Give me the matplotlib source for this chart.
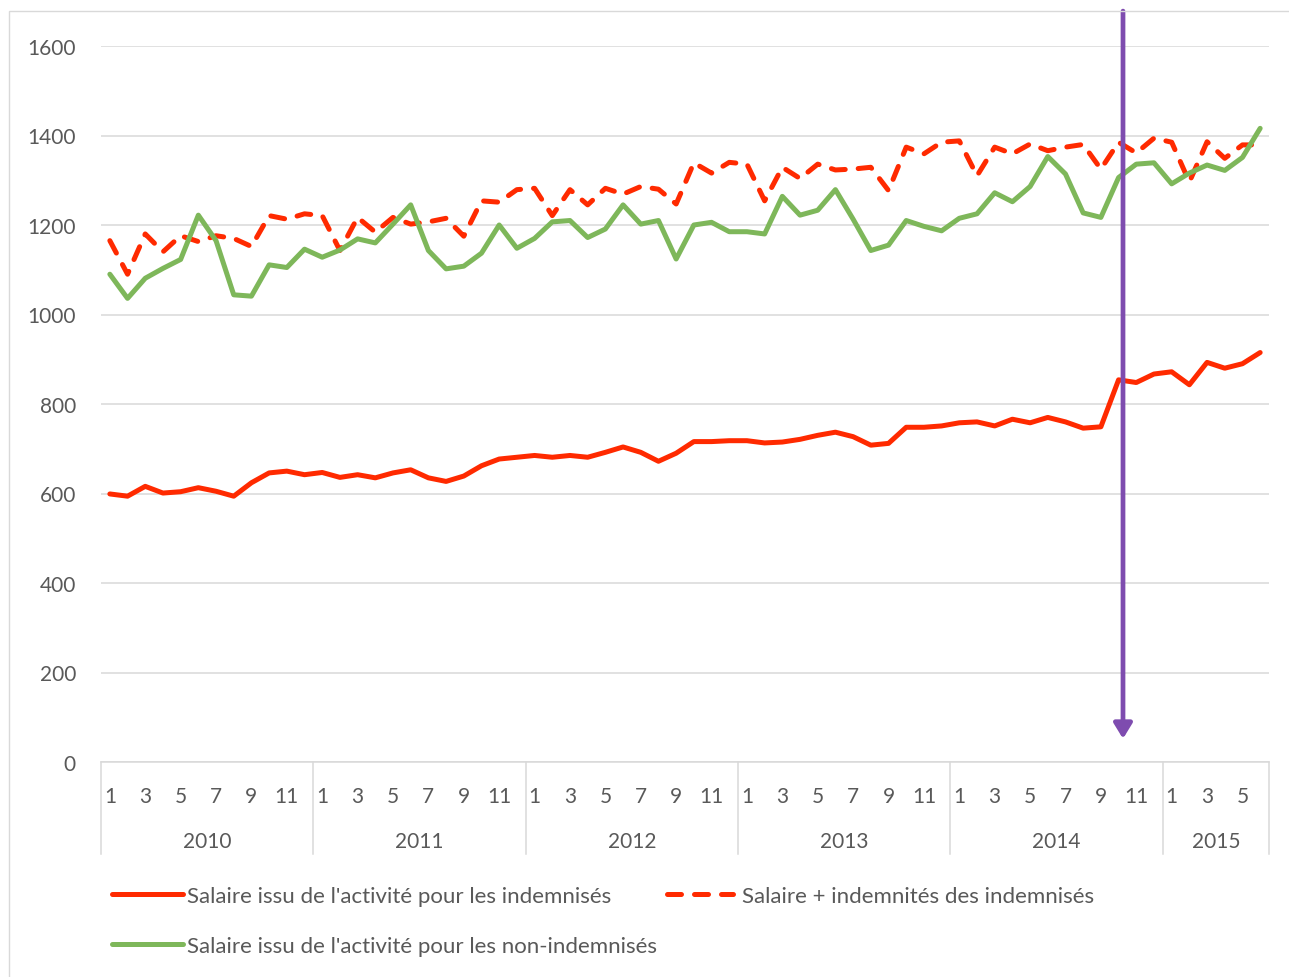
import matplotlib
matplotlib.use("Agg")
import matplotlib.pyplot as plt
import matplotlib.transforms as mtransforms
from matplotlib.lines import Line2D
from matplotlib.patches import Rectangle

plt.rcParams['font.family'] = ['Lato', 'DejaVu Sans']

# ---- data -------------------------------------------------------------
years = [2010] * 12 + [2011] * 12 + [2012] * 12 + [2013] * 12 + [2014] * 12 + [2015] * 6
months = list(range(1, 13)) * 5 + list(range(1, 7))

salaire_indemnises = [
    599, 594, 616, 601, 604, 613, 605, 594, 624, 646, 650, 642,
    647, 636, 642, 635, 646, 653, 635, 627, 639, 662, 677, 681,
    685, 681, 685, 681, 692, 704, 692, 672, 690, 716, 716, 718,
    718, 713, 715, 721, 730, 737, 727, 708, 712, 748, 748, 751,
    758, 760, 751, 766, 758, 770, 760, 746, 749, 854, 848, 867,
    872, 843, 893, 880, 890, 915]

salaire_plus_indemnites = [
    1165, 1090, 1180, 1140, 1176, 1163, 1176, 1170, 1152, 1221, 1213, 1225,
    1221, 1143, 1217, 1184, 1217, 1202, 1207, 1215, 1175, 1254, 1251, 1279,
    1282, 1221, 1279, 1245, 1282, 1269, 1286, 1280, 1247, 1339, 1316, 1340,
    1336, 1254, 1329, 1304, 1336, 1323, 1325, 1329, 1277, 1374, 1359, 1385,
    1388, 1310, 1374, 1359, 1381, 1366, 1374, 1380, 1325, 1385, 1361, 1394,
    1385, 1296, 1386, 1349, 1379, 1379]

salaire_non_indemnises = [
    1090, 1036, 1081, 1103, 1123, 1222, 1165, 1044, 1041, 1111, 1105, 1146,
    1128, 1144, 1169, 1160, 1202, 1245, 1143, 1102, 1108, 1137, 1200, 1148,
    1170, 1207, 1210, 1172, 1191, 1245, 1202, 1210, 1124, 1200, 1206, 1185,
    1185, 1180, 1264, 1222, 1233, 1279, 1213, 1143, 1155, 1210, 1197, 1187,
    1215, 1225, 1272, 1252, 1286, 1353, 1314, 1227, 1217, 1306, 1336, 1339,
    1292, 1316, 1334, 1322, 1351, 1416]

series_labels = ["Salaire issu de l'activité pour les indemnisés",
                 "Salaire + indemnités des indemnisés",
                 "Salaire issu de l'activité pour les non-indemnisés"]
y_ticks = [0, 200, 400, 600, 800, 1000, 1200, 1400, 1600]

# vertical marker (between Oct. and Nov. 2014), in category units / data units
ARROW_X = 57.25
ARROW_TOP = 1678
ARROW_TIP = 52

# ---- style ------------------------------------------------------------
RED = '#FF2A00'
GREEN = '#7EB75A'
PURPLE = '#7E4CAF'
GRID = '#D9D9D9'
TXT = '#595959'

W, H = 1289, 978
fig = plt.figure(figsize=(W / 100, H / 100), dpi=100)
ax = fig.add_axes([101 / W, 1 - 763 / H, (1269 - 101) / W, (763 - 47) / H])

x = list(range(len(months)))
LW = 3.6
ax.plot(x, salaire_indemnises, color=RED, lw=LW, solid_joinstyle='round',
        solid_capstyle='round', zorder=3)
ax.plot(x, salaire_plus_indemnites, color=RED, lw=LW, dashes=(2.8, 2.6),
        dash_capstyle='round', dash_joinstyle='round', zorder=3)
ax.plot(x, salaire_non_indemnises, color=GREEN, lw=LW, solid_joinstyle='round',
        solid_capstyle='round', zorder=4)

ax.set_xlim(-0.5, len(months) - 0.5)
ax.set_ylim(0, 1600)
ax.set_yticks(y_ticks)
ax.set_yticklabels([str(v) for v in y_ticks])
ax.yaxis.grid(True, color=GRID, lw=1.1)
ax.set_axisbelow(True)
for s in ax.spines.values():
    s.set_visible(False)
ax.tick_params(axis='y', length=0, pad=18, labelsize=15, labelcolor=TXT)

# month tick labels (odd months)
odd = [i for i, m in enumerate(months) if m % 2 == 1]
ax.set_xticks(odd)
ax.set_xticklabels([str(months[i]) for i in odd])
ax.tick_params(axis='x', length=0, pad=17, labelsize=15, labelcolor=TXT)

# multi-level category axis: separators and year labels
tr = mtransforms.blended_transform_factory(ax.transData, ax.transAxes)
ax.plot([-0.5, len(months) - 0.5], [0, 0], color=GRID, lw=1.1, transform=tr,
        clip_on=False, zorder=2)
sep_bottom = -(855 - 763) / (763 - 47)
uniq_years = []
for yv in years:
    if yv not in uniq_years:
        uniq_years.append(yv)
bounds = [-0.5]
for yv in uniq_years:
    idx = [i for i, v in enumerate(years) if v == yv]
    bounds.append(idx[-1] + 0.5)
for b in bounds:
    ax.add_line(Line2D([b, b], [0, sep_bottom], color=GRID, lw=1.1,
                       transform=tr, clip_on=False))
for k, yv in enumerate(uniq_years):
    cx = (bounds[k] + bounds[k + 1]) / 2
    ax.text(cx, -(842 - 763) / (763 - 47), str(yv), transform=tr,
            ha='center', va='center', fontsize=15, color=TXT)

# purple arrow
ax.annotate('', xy=(ARROW_X, ARROW_TIP), xytext=(ARROW_X, ARROW_TOP),
            arrowprops=dict(arrowstyle='-|>,head_length=0.9,head_width=0.55',
                            color=PURPLE, lw=3.4, mutation_scale=10,
                            shrinkA=0, shrinkB=0),
            annotation_clip=False, zorder=6)

# chart-area border (top-left part visible)
fig.add_artist(Rectangle((8.5 / W, -0.1), 1.2, 1.1 - 11.5 / H,
                         transform=fig.transFigure, fill=False,
                         ec=GRID, lw=1.0))

# legend (manually laid out like Excel)
def fx(px):
    return px / W

def fy(py):
    return 1 - py / H

entries = [
    (series_labels[0], dict(color=RED, lw=LW, solid_capstyle='round'), 112, 183, 895, 187),
    (series_labels[1], dict(color=RED, lw=LW, dashes=(2.8, 2.6), dash_capstyle='round'), 667, 733, 895, 742),
    (series_labels[2], dict(color=GREEN, lw=LW, solid_capstyle='round'), 112, 183, 945, 187),
]
for label, style, x0, x1, yy, tx in entries:
    fig.add_artist(Line2D([fx(x0), fx(x1)], [fy(yy), fy(yy)],
                          transform=fig.transFigure, **style))
    fig.text(fx(tx), fy(yy), label, ha='left', va='center_baseline',
             fontsize=16, color=TXT)

fig.savefig('out.png', dpi=100)
